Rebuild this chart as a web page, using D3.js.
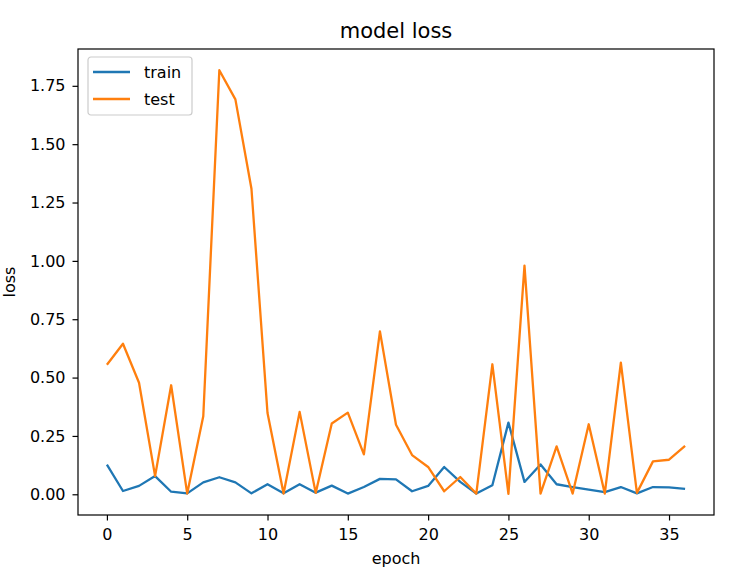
<!DOCTYPE html>
<html>
<head>
<meta charset="utf-8">
<script src="https://d3js.org/d3.v7.min.js"></script>
<style>
  body { margin: 0; background: #fff; }
  text { font-family: "DejaVu Sans", sans-serif; fill: #000; }
</style>
</head>
<body>
<div id="chart"></div>
<script>
// values
var epochs = d3.range(37);
var trainLoss = [0.127, 0.014, 0.036, 0.078, 0.011, 0.004, 0.051, 0.073, 0.051, 0.004,
                 0.043, 0.004, 0.043, 0.007, 0.037, 0.003, 0.031, 0.066, 0.064, 0.013,
                 0.036, 0.117, 0.053, 0.003, 0.039, 0.307, 0.053, 0.128, 0.043, 0.031,
                 0.020, 0.009, 0.031, 0.004, 0.031, 0.030, 0.023];
var testLoss = [0.555, 0.645, 0.478, 0.078, 0.467, 0.003, 0.334, 1.817, 1.692, 1.309,
                0.348, 0.003, 0.353, 0.006, 0.303, 0.350, 0.171, 0.698, 0.298, 0.168,
                0.117, 0.013, 0.074, 0.003, 0.557, 0.002, 0.980, 0.003, 0.205, 0.003,
                0.300, 0.003, 0.564, 0.006, 0.141, 0.148, 0.207];
var xTicks = [0, 5, 10, 15, 20, 25, 30, 35];
var yTicks = [0, 0.25, 0.5, 0.75, 1.0, 1.25, 1.5, 1.75];
var seriesNames = ["train", "test"];
var colors = ["#1f77b4", "#ff7f0e"];

var W = 736, H = 574;
var margin = {top: 49, right: 22, bottom: 59, left: 78},
    width = W - margin.left - margin.right,
    height = H - margin.top - margin.bottom;

var svg = d3.select("#chart")
  .append("svg")
    .attr("width", W)
    .attr("height", H);

var g = svg.append("g")
    .attr("transform", "translate(" + margin.left + "," + margin.top + ")");

// matplotlib style 5% padding
var xPad = 36 * 0.05;
var yMax = d3.max(testLoss.concat(trainLoss)), yMin = d3.min(testLoss.concat(trainLoss));
var yPad = (yMax - yMin) * 0.05;

var x = d3.scaleLinear()
  .domain([0 - xPad, 36 + xPad])
  .range([0, width]);

var y = d3.scaleLinear()
  .domain([yMin - yPad, yMax + yPad])
  .range([height, 0]);

// axes
var xAxis = g.append("g")
  .attr("transform", "translate(0," + height + ")")
  .call(d3.axisBottom(x).tickValues(xTicks).tickFormat(d3.format("d")).tickSizeOuter(0).tickSize(5.5).tickPadding(8));

var yAxis = g.append("g")
  .call(d3.axisLeft(y).tickValues(yTicks).tickFormat(d3.format(".2f")).tickSizeOuter(0).tickSize(5.5).tickPadding(7));

[xAxis, yAxis].forEach(function(a) {
  a.select(".domain").remove();
  a.selectAll(".tick line").attr("stroke", "#000").attr("stroke-width", 1.2);
  a.selectAll(".tick text").style("font-size", "16px").attr("fill", "#000");
});

// lines
var line = d3.line()
  .x(function(d, i) { return x(epochs[i]); })
  .y(function(d) { return y(d); });

[trainLoss, testLoss].forEach(function(s, i) {
  g.append("path")
    .datum(s)
    .attr("fill", "none")
    .attr("stroke", colors[i])
    .attr("stroke-width", 2.3)
    .attr("stroke-linejoin", "round")
    .attr("d", line);
});

// frame
g.append("rect")
  .attr("width", width)
  .attr("height", height)
  .attr("fill", "none")
  .attr("stroke", "#000")
  .attr("stroke-width", 1.2);

// title & labels
svg.append("text")
  .attr("x", margin.left + width / 2)
  .attr("y", 38)
  .attr("text-anchor", "middle")
  .style("font-size", "21px")
  .text("model loss");

svg.append("text")
  .attr("x", margin.left + width / 2)
  .attr("y", 564)
  .attr("text-anchor", "middle")
  .style("font-size", "16px")
  .text("epoch");

svg.append("text")
  .attr("transform", "translate(15," + (margin.top + height / 2) + ") rotate(-90)")
  .attr("text-anchor", "middle")
  .style("font-size", "16px")
  .text("loss");

// legend
var legend = g.append("g").attr("transform", "translate(10,8)");
legend.append("rect")
  .attr("width", 104)
  .attr("height", 58)
  .attr("rx", 3)
  .attr("fill", "#fff")
  .attr("fill-opacity", 0.8)
  .attr("stroke", "#cccccc")
  .attr("stroke-width", 1.2);

seriesNames.forEach(function(name, i) {
  var yy = 15 + i * 27;
  legend.append("line")
    .attr("x1", 5).attr("x2", 42)
    .attr("y1", yy).attr("y2", yy)
    .attr("stroke", colors[i])
    .attr("stroke-width", 2.3);
  legend.append("text")
    .attr("x", 56)
    .attr("y", yy + 5.5)
    .style("font-size", "16px")
    .text(name);
});
</script>
</body>
</html>
